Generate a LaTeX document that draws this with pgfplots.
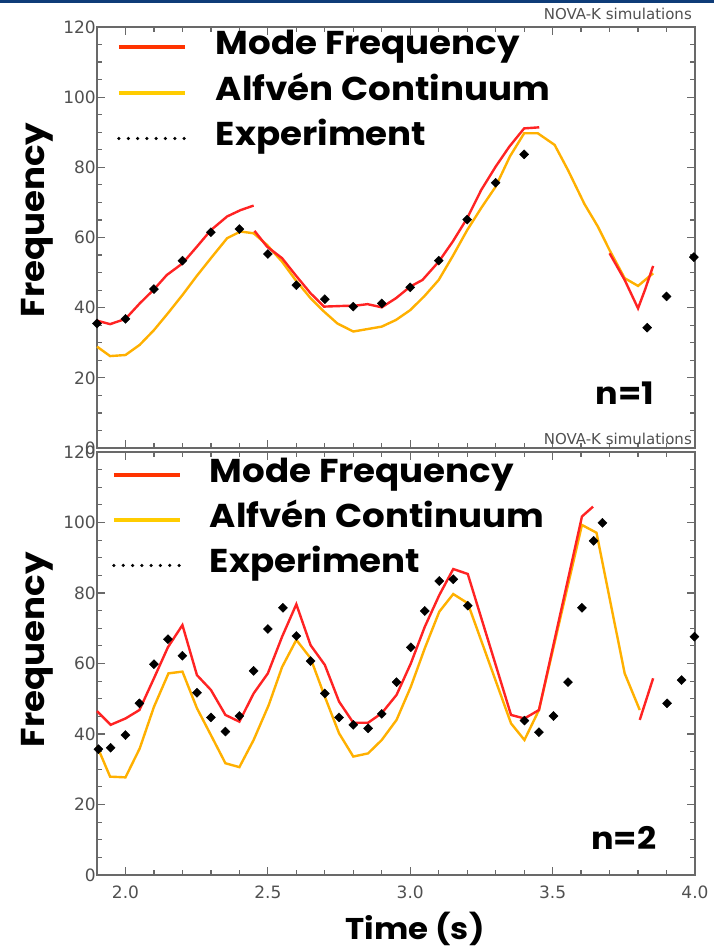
\documentclass[border=0pt]{standalone}
\usepackage{fontspec}
\usepackage{pgfplots}
\pgfplotsset{compat=1.18}
\newfontfamily\gothic[FakeStretch=1.08]{Poppins}
\newfontfamily\dejavu{DejaVu Sans}

\definecolor{modered}{RGB}{255,35,35}
\definecolor{alforange}{RGB}{255,176,0}
\definecolor{legred}{RGB}{255,51,0}
\definecolor{legyellow}{RGB}{255,204,0}
\definecolor{framegray}{RGB}{105,105,105}
\definecolor{tickgray}{RGB}{80,80,80}
\definecolor{barblue}{RGB}{14,60,120}

\pgfplotsset{
  nova/.style={
    scale only axis, width=598pt,
    xmin=1.9, xmax=4.0, ymin=0, ymax=120,
    xtick={2.0,2.5,3.0,3.5,4.0}, minor x tick num=4,
    ytick={0,20,40,60,80,100,120}, minor y tick num=3,
    axis line style={framegray, line width=1.3pt},
    tick style={framegray, line width=1.2pt},
    major tick length=8pt, minor tick length=5pt,
    /pgf/number format/assume math mode=true,
    tick label style={font=\dejavu\fontsize{17}{18}\selectfont, text=tickgray},
    yticklabel style={inner sep=0pt, xshift=-1pt},
    xticklabel style={inner sep=0pt, yshift=-11pt,
      /pgf/number format/.cd, fixed, fixed zerofill, precision=1},
    ylabel={Frequency},
    ylabel style={at={(axis description cs:-0.072,0.5)}, anchor=south, inner sep=0pt,
      font=\gothic\bfseries\fontsize{33}{33}\selectfont},
    legend cell align=left,
    legend image code/.code={\draw[##1] (0pt,0pt) -- (66pt,0pt);},
    legend style={anchor=north west, draw=none, fill=none, inner sep=0pt,
      outer sep=0pt, column sep=29pt,
      font=\gothic\bfseries\fontsize{33}{33}\selectfont,
      nodes={inner sep=0pt, text height=24pt, text depth=9pt}},
    clip=false,
  },
  expt/.style={only marks, mark=square*, mark size=3.2pt,
    mark options={rotate=45}, black},
  moderd/.style={modered, line width=2.4pt},
  alfv/.style={alforange, line width=2.4pt},
}

\begin{document}
\begin{tikzpicture}
\useasboundingbox (0pt,0pt) rectangle (714pt,951pt);
\fill[barblue] (0pt,948pt) rectangle (714pt,951pt);

% n=1 panel
\begin{axis}[nova, at={(97pt,503pt)}, anchor=south west, height=421pt,
  xticklabels={},
  ylabel style={at={(axis description cs:-0.072,0.5416)}},
  legend style={at={(axis description cs:0.0334,0.9905)}, row sep=12.5pt}]
\addlegendimage{legred, line width=4pt}
\addlegendentry{Mode Frequency}
\addlegendimage{legyellow, line width=4pt}
\addlegendentry{Alfvén Continuum}
\addlegendimage{black, line width=3.5pt, line cap=round, dash pattern=on 0pt off 9.3pt}
\addlegendentry{Experiment}

\addplot[alfv, forget plot] table {
1.900 28.9
1.946 26.2
2.000 26.5
2.050 29.4
2.100 33.6
2.150 38.5
2.200 43.6
2.250 49.0
2.300 54.1
2.357 59.8
2.404 61.7
2.450 61.2
2.497 57.9
2.550 53.1
2.597 47.9
2.650 42.7
2.697 38.9
2.744 35.5
2.800 33.2
2.900 34.6
2.950 36.5
3.000 39.3
3.050 43.3
3.100 47.9
3.150 54.8
3.200 62.1
3.250 68.5
3.300 74.5
3.350 83.1
3.400 89.7
3.448 89.7
3.507 86.4
3.554 79.2
3.612 69.5
3.659 63.1
3.700 56.4
3.753 48.4
3.800 46.2
3.853 49.8
};
\addplot[moderd, forget plot] table {
1.900 36.3
1.946 35.3
2.000 36.8
2.050 41.2
2.100 45.2
2.145 49.3
2.200 52.6
2.251 57.4
2.300 62.1
2.357 66.0
2.404 67.8
2.450 69.1
};
\addplot[moderd, forget plot] table {
2.453 61.9
2.497 57.4
2.550 54.1
2.597 49.3
2.650 44.1
2.697 40.3
2.767 40.5
2.800 40.5
2.850 41.0
2.900 40.1
2.950 42.7
3.000 46.0
3.043 47.9
3.100 53.1
3.149 58.8
3.200 65.5
3.249 73.5
3.300 80.2
3.348 85.9
3.400 91.1
3.453 91.4
};
\addplot[moderd, forget plot] table {
3.700 55.5
3.753 47.9
3.800 39.8
3.824 45.0
3.853 51.9
};
\addplot[expt, forget plot] table {
1.900 35.5
2.000 36.8
2.100 45.3
2.200 53.4
2.300 61.5
2.400 62.4
2.500 55.3
2.600 46.4
2.700 42.4
2.800 40.3
2.900 41.2
3.000 45.8
3.100 53.4
3.200 65.1
3.300 75.6
3.400 83.7
3.832 34.3
3.900 43.2
3.996 54.4
};
\node[anchor=base east, inner sep=0pt, font=\gothic\bfseries\fontsize{31}{31}\selectfont]
  at (axis cs:3.858,12.3) {n=1};
\node[anchor=east, inner sep=0pt, text=tickgray, font=\dejavu\fontsize{15}{15}\selectfont]
  at (axis description cs:0.995,1.031) {NOVA-K simulations};
\end{axis}

% n=2 panel
\begin{axis}[nova, at={(97pt,76pt)}, anchor=south west, height=423pt,
  ylabel style={at={(axis description cs:-0.072,0.532)}},
  xlabel={Time (s)},
  xlabel style={at={(axis description cs:0.532,-0.153)}, anchor=base, inner sep=0pt,
    font=\gothic\bfseries\fontsize{30}{30}\selectfont},
  legend style={at={(axis description cs:0.025,0.9835)}, row sep=12pt, column sep=28pt}]
\addlegendimage{legred, line width=4pt}
\addlegendentry{Mode Frequency}
\addlegendimage{legyellow, line width=4pt}
\addlegendentry{Alfvén Continuum}
\addlegendimage{black, line width=3.5pt, line cap=round, dash pattern=on 0pt off 9.3pt}
\addlegendentry{Experiment}

\addplot[alfv, forget plot] table {
1.900 36.6
1.946 27.9
2.000 27.7
2.050 35.9
2.100 47.7
2.151 57.2
2.200 57.7
2.251 47.3
2.300 39.7
2.351 31.7
2.400 30.6
2.450 38.3
2.503 48.2
2.550 59.0
2.600 66.7
2.650 61.5
2.700 50.6
2.750 40.2
2.800 33.6
2.852 34.5
2.900 38.3
2.952 44.0
3.002 53.4
3.051 64.3
3.102 74.7
3.151 79.7
3.202 77.1
3.354 43.0
3.401 38.3
3.452 46.8
3.603 99.3
3.654 97.1
3.753 57.2
3.806 46.8
};
\addplot[moderd, forget plot] table {
1.900 46.5
1.948 42.6
2.000 44.4
2.049 46.8
2.100 55.8
2.149 64.6
2.200 70.9
2.251 56.7
2.300 52.5
2.351 45.4
2.400 43.5
2.450 51.5
2.500 57.2
2.550 67.6
2.600 76.8
2.650 65.2
2.700 59.6
2.750 49.2
2.800 43.2
2.852 43.2
2.900 45.9
2.952 51.1
3.002 60.0
3.051 70.4
3.102 79.4
3.151 86.8
3.202 85.4
3.354 45.4
3.401 44.4
3.452 46.8
3.603 101.7
3.642 104.5
};
\addplot[moderd, forget plot] table {
3.806 44.0
3.853 55.8
};
\addplot[expt, forget plot] table {
1.905 35.7
1.948 36.1
2.000 39.7
2.049 48.7
2.100 59.8
2.149 66.9
2.200 62.2
2.251 51.7
2.300 44.7
2.351 40.7
2.400 45.1
2.450 57.9
2.500 69.8
2.553 75.8
2.600 67.8
2.650 60.7
2.700 51.5
2.750 44.7
2.800 42.6
2.852 41.6
2.900 45.7
2.952 54.7
3.002 64.6
3.051 74.9
3.102 83.4
3.151 83.9
3.202 76.4
3.401 43.8
3.452 40.5
3.503 45.1
3.554 54.7
3.603 75.8
3.644 94.8
3.675 99.9
3.902 48.7
3.953 55.3
3.998 67.6
};
\node[anchor=base east, inner sep=0pt, font=\gothic\bfseries\fontsize{31}{31}\selectfont]
  at (axis cs:3.865,7.1) {n=2};
\node[anchor=east, inner sep=0pt, text=tickgray, font=\dejavu\fontsize{15}{15}\selectfont]
  at (axis description cs:0.995,1.031) {NOVA-K simulations};
\end{axis}
\end{tikzpicture}
\end{document}
